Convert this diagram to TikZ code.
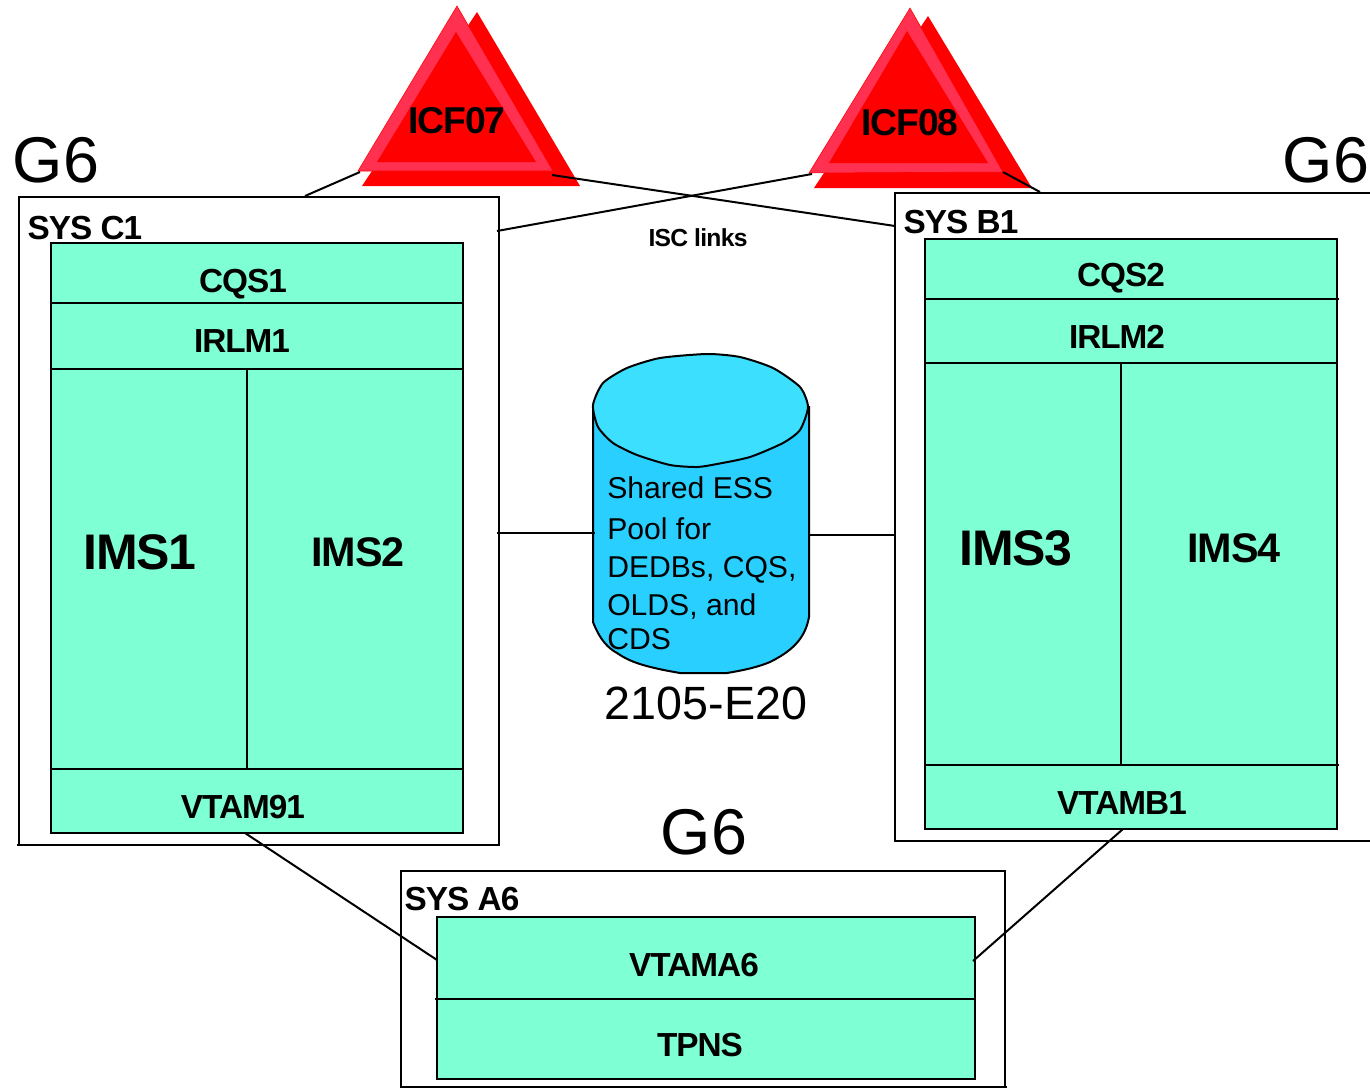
\documentclass[tikz,border=0pt]{standalone}
\usepackage{fontspec}
\setmainfont{Liberation Sans}
\newfontfamily\tightbf[LetterSpace=-3,BoldFont={Liberation Sans Bold}]{Liberation Sans Bold}
\usetikzlibrary{positioning}
\definecolor{cellfill}{RGB}{127,255,212}
\definecolor{icfband}{RGB}{255,48,80}
\definecolor{cyltop}{RGB}{61,223,255}
\definecolor{cylbody}{RGB}{41,207,255}
\newcommand{\px}{0.75pt}
\tikzset{
  sysframe/.style={draw,line width=1.5pt,inner sep=0pt,outer sep=0pt,anchor=north west},
  cell/.style={draw,line width=1.5pt,fill=cellfill,inner sep=0pt,outer sep=0pt,anchor=north west},
  link/.style={line width=1.5pt},
  small/.style={font=\tightbf\fontsize{25}{27}\selectfont,inner sep=0pt},
  big/.style={font=\tightbf\fontsize{31}{33}\selectfont,inner sep=0pt},
  huge/.style={font=\tightbf\fontsize{37.5}{40}\selectfont,inner sep=0pt},
  gsix/.style={font=\fontsize{48.5}{50}\selectfont,inner sep=0pt},
}
\begin{document}
\begin{tikzpicture}[x=0.75pt,y=-0.75pt]
\useasboundingbox (0,0) rectangle (1370,1088);
% frames
\node[sysframe,minimum width=480*\px,minimum height=648*\px] (sysc1) at (19,197) {};
\node[sysframe,minimum width=480*\px,minimum height=648*\px] (sysb1) at (895,193) {};
\node[sysframe,minimum width=604*\px,minimum height=216*\px] (sysa6) at (401,871) {};
\draw[link] (sysc1.south west) -- ++(-2,0);
\draw[link] (sysa6.south east) -- ++(2,0);
% SYS C1
\node[cell,minimum width=412*\px,minimum height=60*\px] (cqs1) at (51,243) {};
\node[cell,minimum width=412*\px,minimum height=66*\px] (irlm1) at (51,303) {};
\node[cell,minimum width=196*\px,minimum height=400*\px] (ims1) at (51,369) {};
\node[cell,minimum width=216*\px,minimum height=400*\px] (ims2) at (247,369) {};
\node[cell,minimum width=412*\px,minimum height=64*\px] (vtam91) at (51,769) {};
% SYS B1
\node[cell,minimum width=412*\px,minimum height=60*\px] (cqs2) at (925,239) {};
\node[cell,minimum width=412*\px,minimum height=64*\px] (irlm2) at (925,299) {};
\node[cell,minimum width=196*\px,minimum height=402*\px] (ims3) at (925,363) {};
\node[cell,minimum width=216*\px,minimum height=402*\px] (ims4) at (1121,363) {};
\node[cell,minimum width=412*\px,minimum height=64*\px] (vtamb1) at (925,765) {};
\draw[link] (cqs2.south east) -- ++(2,0);
\draw[link] (vtamb1.north east) -- ++(2,0);
% SYS A6
\node[cell,minimum width=538*\px,minimum height=82*\px] (vtama6) at (437,917) {};
\node[cell,minimum width=538*\px,minimum height=80*\px] (tpns) at (437,999) {};
\draw[link] (tpns.north west) -- ++(-2,0);
% labels
\node[small] (lblcqs1) at (243,284) {CQS1};
\node[small] (lblirlm1) at (242,341) {IRLM1};
\node[huge] (lblims1) at (140,552) {IMS1};
\node[big] (lblims2) at (358,552) {IMS2};
\node[small] (lblvtam91) at (243,807) {VTAM91};
\node[small] (lblcqs2) at (1121,278) {CQS2};
\node[small] (lblirlm2) at (1117,337) {IRLM2};
\node[huge] (lblims3) at (1016,548) {IMS3};
\node[big] (lblims4) at (1234,548) {IMS4};
\node[small] (lblvtamb1) at (1122,803) {VTAMB1};
\node[small] (lblvtama6) at (694,965) {VTAMA6};
\node[small] (lbltpns) at (700,1045) {TPNS};
\node[small] (lblc1) at (85,228) {SYS C1};
\node[small] (lblb1) at (961,222) {SYS B1};
\node[small] (lbla6) at (462,899) {SYS A6};
\node[gsix] (gleft) at (56,160) {G6};
\node[gsix] (gright) at (1326,160) {G6};
\node[gsix] (gmid) at (704,832) {G6};
% ICF07
\fill[red] (477,12) -- (362,186) -- (580,186) -- cycle;
\fill[icfband,draw=red] (457,6) -- (358,171) -- (553,171) -- cycle;
\fill[red] (456,32) -- (377,162) -- (536,162) -- cycle;
\node[small,font=\tightbf\fontsize{28}{30}\selectfont] (icf07) at (457,121) {ICF07};
\coordinate (icf07l) at (360,172);
\coordinate (icf07r) at (552,175);
% ICF08
\fill[red] (928,16) -- (814,188) -- (1032,188) -- cycle;
\fill[icfband,draw=red] (910,8) -- (809,173) -- (1003,172) -- cycle;
\fill[red] (907,31) -- (829,163) -- (988,163) -- cycle;
\node[small,font=\tightbf\fontsize{28}{30}\selectfont] (icf08) at (910,123) {ICF08};
\coordinate (icf08l) at (812,174);
\coordinate (icf08r) at (1003,172);
% DASD
\filldraw[cylbody,draw=black,line width=1.5pt] (593,408) -- (593,622)
  .. controls (600,640) and (608,648) .. (617,653)
  .. controls (630,662) and (645,667) .. (680,673) -- (727,673)
  .. controls (745,670) and (758,667) .. (770,662)
  .. controls (790,652) and (805,640) .. (809,617) -- (809,407) -- cycle;
\filldraw[cyltop,draw=black,line width=1.5pt] plot[smooth cycle,tension=.4] coordinates
  {(593,405) (603,383) (627,368) (660,358) (707,354) (740,357) (773,368) (800,387) (808,407)
   (800,430) (783,443) (750,457) (717,464) (697,467) (670,465) (637,455) (613,443) (598,427)};
\node[inner sep=0pt,anchor=north west,align=left,font=\fontsize{22.6}{28.5}\selectfont] (lblpool) at (607,476)
  {Shared ESS\\[2.25pt]Pool for\\DEDBs, CQS,\\OLDS, and\\[-3pt]CDS};
\node[font=\fontsize{35}{37}\selectfont,inner sep=0pt] (lbldasd) at (706,703) {2105-E20};
\node[font=\tightbf\fontsize{18.5}{20}\selectfont,inner sep=0pt] (lblisc) at (698,238) {ISC links};
\coordinate (cylw) at (595,533);
\coordinate (cyle) at (809,535);
% links
\coordinate (c1top) at (305,196);
\coordinate (c1isc) at (497,231);
\coordinate (c1dasd) at (497,533);
\coordinate (b1isc) at (895,226);
\coordinate (b1top) at (1040,192);
\coordinate (b1dasd) at (895,535);
\coordinate (a6l) at (437,960);
\coordinate (a6r) at (973,961);
\draw[link] (c1top) -- (icf07l);
\draw[link] (icf07r) -- (b1isc);
\draw[link] (c1isc) -- (icf08l);
\draw[link] (icf08r) -- (b1top);
\draw[link] (c1dasd) -- (cylw);
\draw[link] (cyle) -- (b1dasd);
\draw[link] (vtam91.south -| 245,833) -- (a6l);
\draw[link] (vtamb1.south -| 1123,829) -- (a6r);
\end{tikzpicture}
\end{document}
